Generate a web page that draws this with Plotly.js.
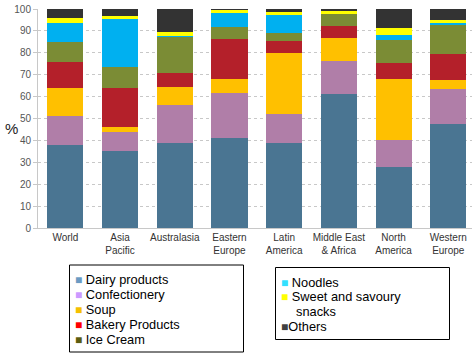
<!DOCTYPE html>
<html>
<head>
<meta charset="utf-8">
<script src="https://cdn.plot.ly/plotly-3.0.1.min.js"></script>
<style>html,body{margin:0;padding:0;background:#fff;}#chart{width:472px;height:356px;}</style>
</head>
<body>
<div id="chart"></div>
<script>
// ---- data ----
const categories = ["World", "Asia<br>Pacific", "Australasia", "Eastern<br>Europe", "Latin<br>America", "Middle East<br>& Africa", "North<br>America", "Western<br>Europe"];
const seriesNames = ["Dairy products", "Confectionery", "Soup", "Bakery Products", "Ice Cream", "Noodles", "Sweet and savoury snacks", "Others"];
const dairy         = [38.0, 35.0, 38.8, 41.2, 38.8, 61.4, 27.7, 47.6];
const confectionery = [13.2,  8.8, 17.3, 20.4, 13.3, 14.9, 12.6, 15.8];
const soup          = [12.8,  2.1,  8.3,  6.5, 27.7, 10.3, 27.9,  4.4];
const bakery        = [11.7, 17.9,  6.4, 18.1,  5.8,  5.6,  7.3, 11.8];
const iceCream      = [ 9.4,  9.9, 16.6,  5.6,  3.3,  5.5, 10.2, 13.1];
const noodles       = [ 8.7, 21.7,  0.2,  6.2,  8.4,  0.2,  2.4,  1.1];
const snacks        = [ 1.9,  1.6,  1.7,  1.5,  1.5,  1.2,  3.1,  1.2];
const others        = [ 4.3,  3.0, 10.7,  0.5,  1.2,  0.9,  8.8,  5.0];
const yTicks = [0, 10, 20, 30, 40, 50, 60, 70, 80, 90, 100];

// ---- styles ----
const barColors = ["#4a7592", "#b07ea8", "#ffc000", "#b4202a", "#7b8c35", "#00b0f0", "#ffff00", "#333333"];
const keyColors = ["#6b9bc3", "#cc99ff", "#f5c000", "#ff0000", "#5c5c10", "#33e0ff", "#ffff00", "#404040"];
const allSeries = [dairy, confectionery, soup, bakery, iceCream, noodles, snacks, others];

const W = 472, H = 356, L = 38, R = 0, T = 9, B = 128;
const PW = W - L - R, PH = H - T - B;
const px2x = p => (p - L) / PW;
const px2y = p => (H - B - p) / PH;

const traces = allSeries.map((vals, i) => ({
  type: "bar",
  name: seriesNames[i],
  x: categories,
  y: vals,
  marker: {color: barColors[i], line: {width: 0}},
  showlegend: false,
  hoverinfo: "x+y+name"
}));

// legend keys (two boxes) built from names
const annotations = [];
const shapes = [];
const f = {family: "Liberation Sans, Arial, sans-serif", size: 12.8, color: "#000"};
const mk = (c) => '<span style="color:' + c + ';font-size:12px">■</span>';
const addKey = (px, py, txt) => annotations.push({
  xref: "paper", yref: "paper", x: px2x(px), y: px2y(py),
  xanchor: "left", yanchor: "middle", showarrow: false, align: "left",
  borderpad: 0, text: txt, font: f
});
const box1 = [0, 1, 2, 3, 4];
const box1Y = [279.3, 294.2, 309.2, 324.2, 339.3];
box1.forEach((si, k) => addKey(74, box1Y[k], mk(keyColors[si]) + '&nbsp;' + seriesNames[si]));

// second box: Noodles, Sweet and savoury (wrapped), Others
addKey(280, 282.3, mk(keyColors[5]) + '&nbsp;' + seriesNames[5]);
const snackWords = seriesNames[6].split(" ");
addKey(280, 296.8, mk(keyColors[6]) + '&nbsp;' + snackWords.slice(0, -1).join(" "));
addKey(294.5, 311.8, snackWords[snackWords.length - 1]);
addKey(280, 326.7, mk(keyColors[7]) + seriesNames[7]);

shapes.push({type: "rect", xref: "paper", yref: "paper",
  x0: px2x(69.5), x1: px2x(243.5), y0: px2y(352), y1: px2y(265),
  line: {color: "#000", width: 1}, fillcolor: "rgba(0,0,0,0)"});
shapes.push({type: "rect", xref: "paper", yref: "paper",
  x0: px2x(275.5), x1: px2x(449.5), y0: px2y(339.5), y1: px2y(267.5),
  line: {color: "#000", width: 1}, fillcolor: "rgba(0,0,0,0)"});

// "%" axis label (upright)
annotations.push({
  xref: "paper", yref: "paper", x: px2x(11), y: px2y(128),
  xanchor: "center", yanchor: "middle", showarrow: false,
  text: "%", font: {family: "Liberation Sans, Arial, sans-serif", size: 15, color: "#222"}
});

const layout = {
  width: W, height: H,
  margin: {l: L, r: R, t: T, b: B, pad: 0},
  paper_bgcolor: "#fff", plot_bgcolor: "#fff",
  barmode: "stack",
  bargap: 0.34,
  showlegend: false,
  font: {family: "Liberation Sans, Arial, sans-serif", size: 10, color: "#333"},
  xaxis: {
    type: "category",
    range: [-0.5, -0.5 + PW / 54.7],
    showgrid: false, zeroline: false,
    showline: true, linecolor: "#c8c8c8", linewidth: 1,
    ticks: "", tickfont: {size: 10, color: "#333"},
    fixedrange: true
  },
  yaxis: {
    range: [0, 100],
    tickvals: yTicks, ticktext: yTicks.map(String),
    showgrid: true, gridcolor: "#c8c8c8", griddash: "dot", gridwidth: 1,
    zeroline: false,
    showline: true, linecolor: "#c8c8c8", linewidth: 1,
    ticks: "outside", ticklen: 4, tickcolor: "#c8c8c8",
    tickfont: {size: 10, color: "#555"},
    fixedrange: true
  },
  annotations: annotations,
  shapes: shapes
};

Plotly.newPlot("chart", traces, layout, {displayModeBar: false, staticPlot: true});
</script>
</body>
</html>
